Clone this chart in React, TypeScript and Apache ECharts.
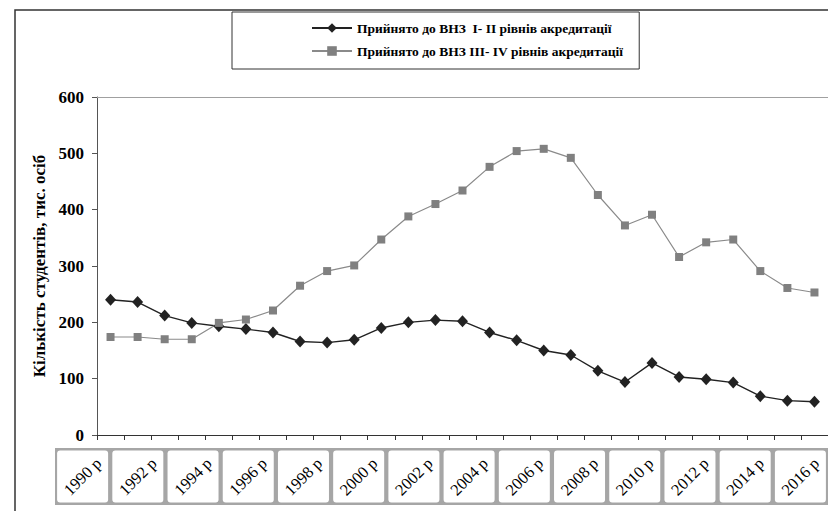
import React, { useEffect, useRef } from "react";
import * as echarts from "echarts";

const years = [
  "1990", "1991", "1992", "1993", "1994", "1995", "1996", "1997", "1998",
  "1999", "2000", "2001", "2002", "2003", "2004", "2005", "2006", "2007",
  "2008", "2009", "2010", "2011", "2012", "2013", "2014", "2015", "2016",
];

const admittedI_II = [
  240, 236, 212, 199, 193, 188, 182, 166, 164, 169, 190, 200, 204, 202, 182,
  168, 150, 142, 114, 94, 128, 103, 99, 93, 69, 61, 59,
];

const admittedIII_IV = [
  174, 174, 170, 170, 199, 205, 221, 265, 291, 301, 347, 388, 410, 434, 476,
  504, 508, 492, 426, 372, 391, 316, 342, 347, 291, 261, 253,
];

const tickLabels = [
  "1990 р", "1992 р", "1994 р", "1996 р", "1998 р", "2000 р", "2002 р",
  "2004 р", "2006 р", "2008 р", "2010 р", "2012 р", "2014 р", "2016 р",
];

const seriesNames = [
  "Прийнято до ВНЗ  I- II рівнів акредитації",
  "Прийнято до ВНЗ III- IV рівнів акредитації",
];

const yName = "Кількість студентів, тис. осіб";
const FONT = "Liberation Serif";

export default function App() {
  const ref = useRef<HTMLDivElement>(null);

  useEffect(() => {
    if (!ref.current) return;
    const chart = echarts.init(ref.current, null, { renderer: "svg" });
    chart.setOption({
      animation: false,
      backgroundColor: "#ffffff",
      textStyle: { fontFamily: FONT },
      graphic: [
        {
          type: "rect",
          shape: { x: 15, y: 10, width: 900, height: 600 },
          style: { fill: "none", stroke: "#333", lineWidth: 1.5 },
          z: -1,
          silent: true,
        },
      ],
      legend: {
        data: seriesNames,
        orient: "vertical",
        left: 232,
        top: 12,
        padding: [9, 16, 11, 79],
        itemWidth: 40,
        itemHeight: 12,
        itemGap: 9,
        borderColor: "#333",
        borderWidth: 1,
        textStyle: {
          fontFamily: FONT,
          fontWeight: "bold",
          fontSize: 13.5,
          color: "#000",
        },
      },
      grid: [
        { left: 97, top: 97, width: 743.6, height: 338 },
        {
          left: 55,
          top: 448,
          width: 776,
          height: 57,
          show: true,
          backgroundColor: "#a6a6a6",
          borderWidth: 0,
        },
      ],
      xAxis: [
        {
          gridIndex: 0,
          type: "category",
          data: years,
          boundaryGap: true,
          axisLine: { lineStyle: { color: "#333", width: 1 } },
          axisTick: {
            show: true,
            interval: 0,
            length: 5,
            lineStyle: { color: "#333" },
          },
          axisLabel: { show: false },
          splitLine: { show: false },
        },
        {
          gridIndex: 0,
          type: "category",
          position: "top",
          data: years,
          axisLine: { lineStyle: { color: "#a0a0a0", width: 1 } },
          axisTick: { show: false },
          axisLabel: { show: false },
          splitLine: { show: false },
        },
        {
          gridIndex: 1,
          type: "category",
          data: tickLabels,
          show: false,
        },
      ],
      yAxis: [
        {
          gridIndex: 0,
          type: "value",
          min: 0,
          max: 600,
          interval: 100,
          axisLine: { show: true, lineStyle: { color: "#555" } },
          axisTick: { show: true, length: 5, lineStyle: { color: "#555" } },
          axisLabel: {
            fontFamily: FONT,
            fontWeight: "bold",
            fontSize: 17,
            color: "#000",
            margin: 13,
          },
          splitLine: { show: false },
          name: yName,
          nameLocation: "middle",
          nameGap: 46,
          nameTextStyle: {
            fontFamily: FONT,
            fontWeight: "bold",
            fontSize: 17,
            color: "#000",
          },
        },
        {
          gridIndex: 1,
          type: "value",
          min: -0.05,
          max: 1.05,
          show: false,
        },
      ],
      series: [
        {
          name: seriesNames[0],
          type: "line",
          xAxisIndex: 0,
          yAxisIndex: 0,
          data: admittedI_II,
          symbol: "diamond",
          symbolSize: [11, 12],
          color: "#222",
          lineStyle: { color: "#222", width: 1.4 },
          itemStyle: { color: "#222" },
        },
        {
          name: seriesNames[1],
          type: "line",
          xAxisIndex: 0,
          yAxisIndex: 0,
          data: admittedIII_IV,
          symbol: "rect",
          symbolSize: 8,
          color: "#808080",
          lineStyle: { color: "#8a8a8a", width: 1.2 },
          itemStyle: { color: "#808080" },
        },
        {
          name: "labels",
          type: "bar",
          xAxisIndex: 2,
          yAxisIndex: 1,
          data: tickLabels.map(() => 1),
          barWidth: 51,
          silent: true,
          itemStyle: { color: "#ffffff", borderRadius: 3 },
          label: {
            show: true,
            position: "inside",
            rotate: 45,
            formatter: "{b}",
            fontFamily: FONT,
            fontSize: 16.5,
            color: "#000",
          },
        },
      ],
    });
    return () => chart.dispose();
  }, []);

  return (
    <div
      ref={ref}
      style={{ position: "fixed", left: 0, top: 0, width: 828, height: 511 }}
    />
  );
}
